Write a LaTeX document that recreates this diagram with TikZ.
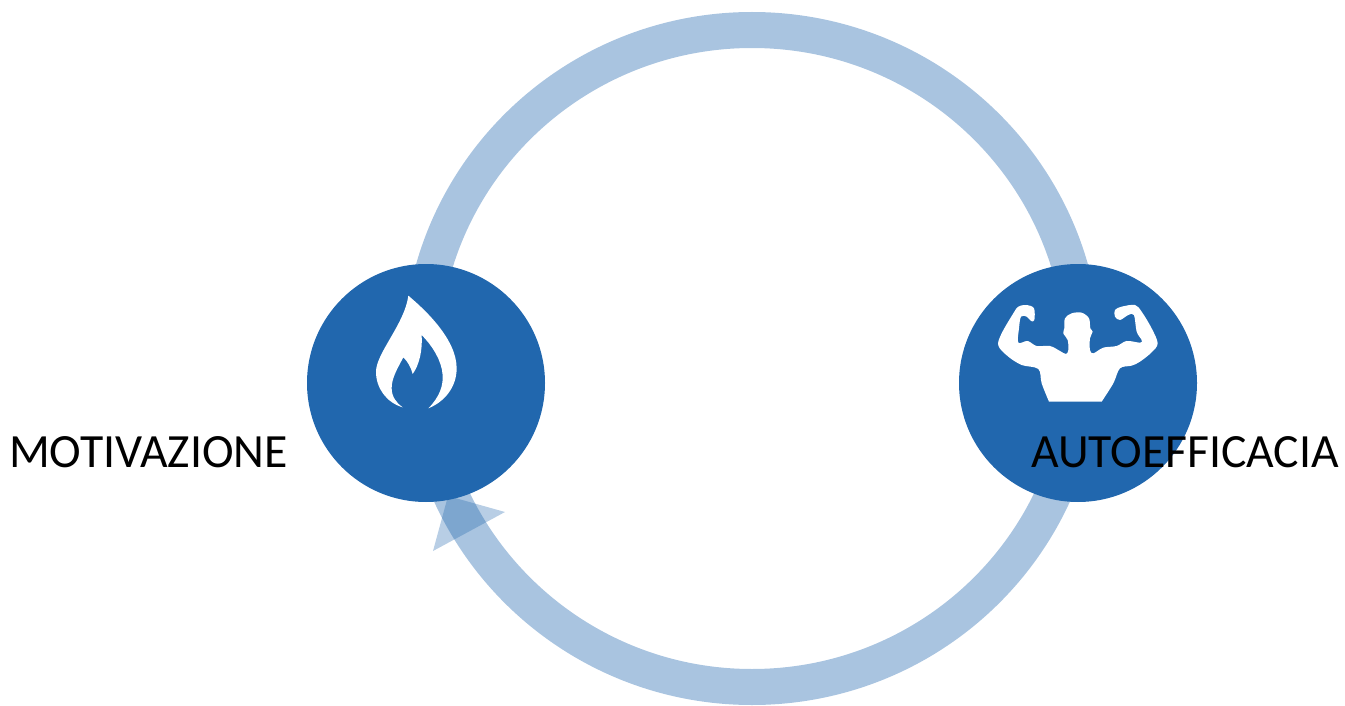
\documentclass[tikz,border=0pt]{standalone}
\usepackage{fontspec}
\setmainfont[Ligatures=NoCommon]{Carlito}
\definecolor{hub}{HTML}{2167AE}
\definecolor{ringc}{HTML}{A9C4E0}
\tikzset{
  hubnode/.style={circle,fill=hub,draw=none,minimum size=238pt,inner sep=0pt,outer sep=0pt},
  ringnode/.style={ellipse,draw=ringc,line width=36pt,fill=none,minimum width=662pt,minimum height=657pt,inner sep=0pt,outer sep=0pt},
  headnode/.style={fill=hub,fill opacity=0.32,draw=none},
  glyph/.style={fill=white,draw=none},
  caption/.style={font=\fontsize{47.7pt}{54pt}\selectfont,text=black,inner sep=0pt},
}
\usetikzlibrary{shapes.geometric}
\begin{document}
\begin{tikzpicture}[x=1pt,y=-1pt]
\useasboundingbox (0,0) rectangle (1345,706);
\node[ringnode] (ring) at (752,358.5) {};
\fill[headnode] (448,496) -- (505,512) -- (433,551) -- cycle;
\node[hubnode] (mot) at (426,383) {};
\node[hubnode] (aut) at (1078,383) {};
% flame
\begin{scope}[shift={(340,270)},x=0.3333pt,y=-0.3333pt]
\fill[glyph] (205,77)
  .. controls (250,115) and (350,205) .. (350,295)
  .. controls (350,350) and (315,395) .. (265,415)
  .. controls (300,380) and (310,345) .. (308,315)
  .. controls (305,270) and (275,225) .. (245,195)
  .. controls (248,240) and (238,285) .. (218,312)
  .. controls (212,290) and (203,275) .. (190,262)
  .. controls (170,300) and (155,325) .. (155,355)
  .. controls (155,380) and (170,400) .. (188,412)
  .. controls (140,398) and (108,355) .. (108,305)
  .. controls (108,250) and (195,160) .. (205,77)
  -- cycle;
\end{scope}
% figure
\begin{scope}[shift={(985,295)},x=0.3333pt,y=-0.3333pt]
\fill[glyph] (192,320)
  -- plot[smooth,tension=0.55] coordinates {(192,320) (170,265) (160,222) (110,210) (70,185) (40,152) (50,115) (85,55) (100,35) (125,30) (147,40) (148,75) (138,78) (125,65) (108,65) (102,100) (100,143) (128,138) (155,153) (195,153) (225,168) (243,177) (250,165) (248,135) (235,115) (238,100) (240,70) (260,55) (290,53) (312,70) (316,100) (323,110) (315,130) (315,165) (325,175) (355,158) (395,153) (425,138) (465,143) (470,135) (455,110) (447,60) (430,60) (405,75) (390,65) (390,45) (410,35) (450,30) (470,50) (500,100) (518,145) (500,172) (465,200) (440,212) (405,220) (385,265) (350,320)}
  -- cycle;
\end{scope}
\node[caption] (motlabel) at (148.5,452) {MOTIVAZIONE};
\node[caption] (autlabel) at (1185,452) {AUTOEFFICACIA};
\end{tikzpicture}
\end{document}
